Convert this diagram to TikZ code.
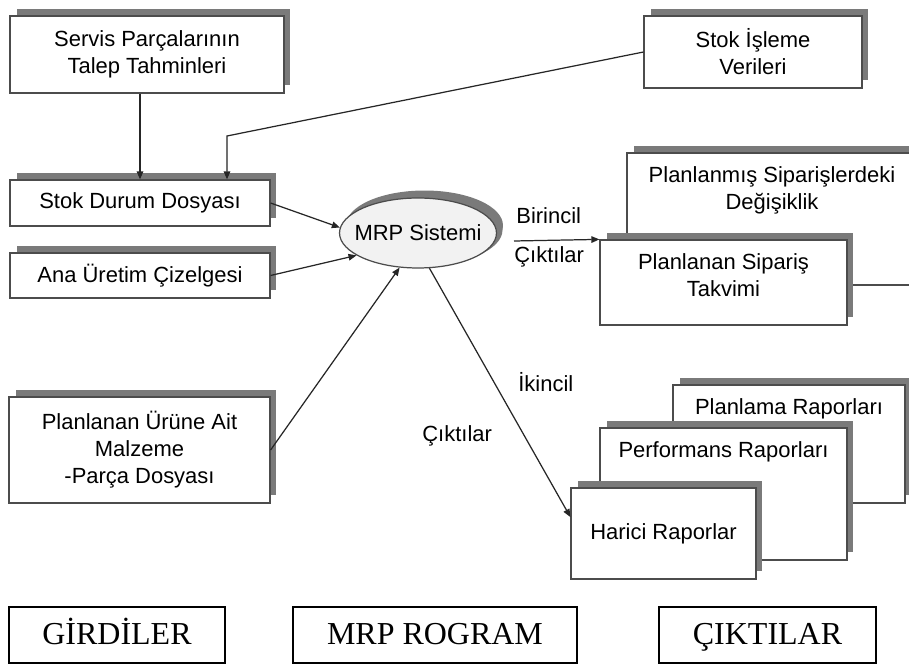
\documentclass[tikz,border=0pt]{standalone}
\usepackage{fontspec}
\setmainfont{Liberation Serif}
\setsansfont{Liberation Sans}
\usetikzlibrary{calc,shadows,arrows.meta,shapes.geometric}

\newcommand\ustmetin[3]{\parbox[c][#2][t]{#1}{\centering\vspace*{0.27cm}#3}}

\tikzset{
  kutu/.style={rectangle, draw=black!70, fill=white, line width=0.7pt, inner sep=0pt, align=center,
    font=\sffamily\fontsize{12.5}{15.3}\selectfont,
    drop shadow={shadow xshift=0.13cm, shadow yshift=0.15cm, fill=black!52, opacity=1}},
  baslik/.style={rectangle, draw=black, line width=1.1pt, minimum height=1.12cm,
    text height=0.46cm, text depth=0.1cm,
    font=\rmfamily\fontsize{18.2}{20}\selectfont},
  ok/.style={draw=black!85, line width=0.7pt, -{Triangle[length=1.6mm,width=1.3mm]}},
  cizgi/.style={draw=black!85, line width=0.7pt},
  etiket/.style={inner sep=0pt, anchor=west, font=\sffamily\fontsize{12.5}{15.3}\selectfont}
}

\begin{document}
\begin{tikzpicture}[x=0.02cm, y=-0.02cm]

\clip (0,0) rectangle (909,668);
\fill [white] (0,0) rectangle (909,668);

% girdiler
\node [kutu, minimum width=5.48cm, minimum height=1.54cm] (servis) at (147,54.5) {Servis Parçalarının\\Talep Tahminleri};
\node [kutu, minimum width=4.36cm, minimum height=1.44cm] (stokisleme) at (753,52) {Stok İşleme\\Verileri};
\node [kutu, minimum width=5.2cm, minimum height=0.92cm] (stokdurum) at (140,203) {Stok Durum Dosyası};
\node [kutu, minimum width=5.2cm, minimum height=0.9cm] (anauretim) at (140,275.5) {Ana Üretim Çizelgesi};
\node [kutu, minimum width=5.22cm, minimum height=2.12cm] (malzeme) at (139.5,450) {Planlanan Ürüne Ait\\Malzeme\\-Parça Dosyası};

\node [kutu, ellipse, fill=black!5, minimum width=3.14cm, minimum height=1.4cm,
  drop shadow={shadow xshift=0.12cm, shadow yshift=0.06cm, fill=black!52, opacity=1}] (mrp) at (418,233) {\makebox[2cm]{MRP Sistemi}};

% birincil ciktilar
\node [kutu] (degisiklik) at (772,219) {\ustmetin{5.8cm}{2.64cm}{Planlanmış Siparişlerdeki\\Değişiklik}};
\node [kutu] (siparis) at (723.5,282.5) {\ustmetin{4.94cm}{1.7cm}{Planlanan Sipariş\\Takvimi}};

% ikincil ciktilar
\node [kutu] (planlama) at (789,444) {\ustmetin{4.64cm}{2.36cm}{Planlama Raporları}};
\node [kutu] (performans) at (723.5,494) {\ustmetin{4.94cm}{2.64cm}{Performans Raporları}};
\node [kutu, minimum width=3.7cm, minimum height=1.82cm] (harici) at (663.5,533.5) {Harici Raporlar};

\coordinate (kirik) at (227,136);
\coordinate (birbas) at (514,241);

\draw [ok] (servis.south -| stokdurum.north) -- (stokdurum.north);
\draw [ok] (stokisleme.west) -- (kirik) -- (kirik |- stokdurum.north);
\draw [ok] (stokdurum.east) -- (mrp.176);
\draw [ok] (anauretim.east) -- (mrp.200);
\draw [ok] (malzeme.east) -- (mrp.242);
\draw [ok] (birbas) -- (siparis.north west);
\draw [ok] (mrp.288) -- (harici.170);

\node [etiket] (birincil) at (516,216) {Birincil};
\node [etiket] (cikti1) at (514,257) {Çıktılar};
\node [etiket] (ikincil) at (518,382) {İkincil};
\node [etiket] (cikti2) at (422,436) {Çıktılar};

% alt basliklar
\node [baslik, minimum width=4.32cm] (girdiler) at (117,635) {GİRDİLER};
\node [baslik, minimum width=5.68cm] (program) at (435,635) {MRP ROGRAM};
\node [baslik, minimum width=4.34cm] (ciktilar) at (767.5,635) {ÇIKTILAR};

\end{tikzpicture}
\end{document}
